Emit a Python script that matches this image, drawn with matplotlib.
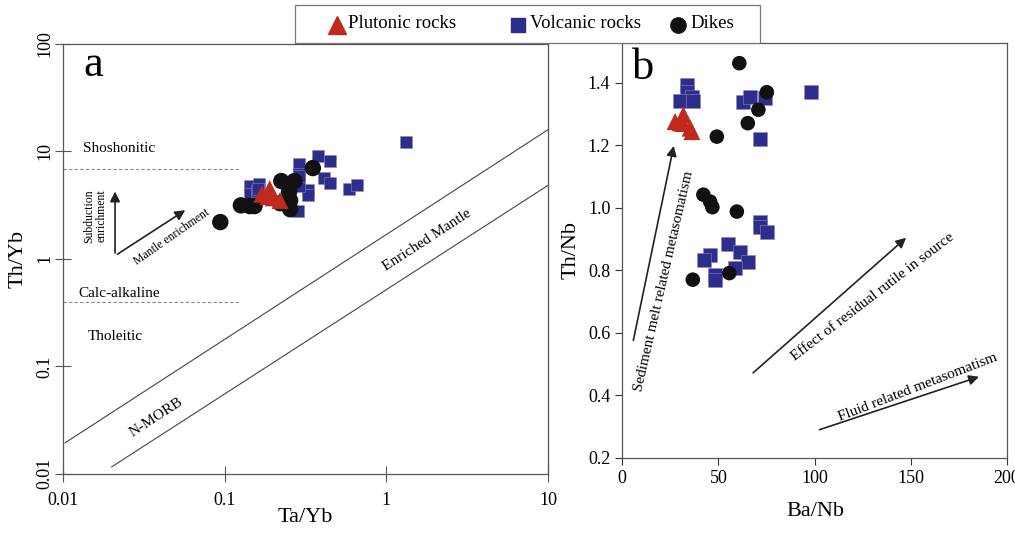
import numpy as np
import matplotlib
matplotlib.use("Agg")
import matplotlib.pyplot as plt
from matplotlib.lines import Line2D
from matplotlib.patches import Rectangle

plt.rcParams['font.family'] = ['Liberation Serif', 'DejaVu Serif']

# ---- panel a: Th/Yb vs Ta/Yb ----
a_volc_x = [1.32, 0.377, 0.445, 0.288, 0.29, 0.41, 0.445, 0.585, 0.656, 0.327, 0.327,
            0.283, 0.143, 0.162, 0.143, 0.158, 0.25, 0.29, 0.29, 0.16]
a_volc_y = [12.3, 9.1, 8.2, 7.6, 6.1, 5.7, 5.1, 4.5, 4.9, 4.4, 3.9,
            2.8, 4.8, 5.0, 4.0, 4.3, 4.5, 4.8, 5.9, 4.5]
a_dike_x = [0.094, 0.126, 0.143, 0.153, 0.224, 0.27, 0.351, 0.25, 0.254, 0.254, 0.22]
a_dike_y = [2.2, 3.15, 3.1, 3.1, 5.3, 5.3, 7.0, 4.2, 3.5, 2.9, 3.3]
a_plut_x = [0.17, 0.19, 0.20, 0.22, 0.185]
a_plut_y = [4.0, 4.5, 3.7, 3.5, 3.8]

# mantle array boundaries and series limits
upper_line_x = [0.0103, 10.1]
upper_line_y = [0.0194, 16.1]
lower_line_x = [0.02, 10.0]
lower_line_y = [0.0116, 4.84]
shosh_limit = 6.9
calc_limit = 0.40
limit_x = [0.01, 0.125]
a_ticks = [0.01, 0.1, 1, 10, 100]
a_ticklabels = ['0.01', '0.1', '1', '10', '100']

# ---- panel b: Th/Nb vs Ba/Nb ----
b_dike_x = [60.9, 75.2, 70.8, 65.3, 49.2, 42.2, 45.7, 46.9, 59.6, 36.7, 55.7]
b_dike_y = [1.463, 1.370, 1.314, 1.271, 1.228, 1.042, 1.020, 1.002, 0.988, 0.770, 0.791]
b_volc_x = [33.6, 33.6, 36.2, 30.1, 37.0, 63.0, 66.5, 74.3, 98.2, 71.7, 71.7, 71.7,
            75.2, 55.2, 61.3, 65.6, 58.7, 45.7, 42.6, 48.3, 48.3]
b_volc_y = [1.394, 1.372, 1.356, 1.342, 1.342, 1.338, 1.354, 1.351, 1.372, 1.220, 0.956, 0.940,
            0.922, 0.885, 0.858, 0.828, 0.807, 0.850, 0.834, 0.786, 0.770]
b_plut_x = [27.5, 31.8, 31.8, 35.3, 30.1, 36.2]
b_plut_y = [1.276, 1.298, 1.270, 1.255, 1.272, 1.244]
b_xticks = [0, 50, 100, 150, 200]
b_yticks = [0.2, 0.4, 0.6, 0.8, 1.0, 1.2, 1.4]
b_yticklabels = ['0.2', '0.4', '0.6', '0.8', '1.0', '1.2', '1.4']

legend_labels = ['Plutonic rocks', 'Volcanic rocks', 'Dikes']

red = '#bf2a1c'
blue = '#2d2d8c'
black = '#111111'

fig = plt.figure(figsize=(10.15, 5.36), dpi=100)
ax1 = fig.add_axes([0.062, 0.116, 0.478, 0.802])
ax2 = fig.add_axes([0.613, 0.146, 0.379, 0.774])

# panel a
ax1.set_xscale('log')
ax1.set_yscale('log')
ax1.plot(upper_line_x, upper_line_y, color='#444444', lw=0.8)
ax1.plot(lower_line_x, lower_line_y, color='#444444', lw=0.8)
ax1.plot(limit_x, [shosh_limit] * 2, color='#888888', lw=0.8, ls=(0, (3, 2)))
ax1.plot(limit_x, [calc_limit] * 2, color='#888888', lw=0.8, ls=(0, (3, 2)))
ax1.scatter(a_volc_x, a_volc_y, marker='s', s=70, color=blue, edgecolors='#8888bb', linewidths=0.4, zorder=3)
ax1.scatter(a_dike_x, a_dike_y, marker='o', s=140, color=black, edgecolors='none', zorder=4)
ax1.scatter(a_plut_x, a_plut_y, marker='^', s=150, color=red, edgecolors='none', zorder=5)
ax1.set_xlim(0.01, 10)
ax1.set_ylim(0.01, 100)
ax1.set_xticks(a_ticks[:4])
ax1.set_xticklabels(a_ticklabels[:4])
ax1.set_yticks(a_ticks)
ax1.set_yticklabels(a_ticklabels, rotation=90, va='center')
ax1.minorticks_off()
ax1.set_xlabel('Ta/Yb', fontsize=16)
ax1.set_ylabel('Th/Yb', fontsize=16)
ax1.xaxis.set_label_coords(0.5, -0.079)
ax1.yaxis.set_label_coords(-0.072, 0.5)
ax1.text(0.062, 0.95, 'a', transform=ax1.transAxes, fontsize=32, ha='center', va='center')
ax1.text(0.0133, 10.7, 'Shoshonitic', fontsize=11, ha='left', va='center')
ax1.text(0.0124, 0.48, 'Calc-alkaline', fontsize=11, ha='left', va='center')
ax1.text(0.0143, 0.19, 'Tholeitic', fontsize=11, ha='left', va='center')
ax1.text(0.0158, 2.52, 'Subduction\nenrichment', fontsize=8.5, rotation=90,
         ha='center', va='center', linespacing=1.0)
arrow_kw = dict(arrowstyle='-|>', color='#222222', lw=1.2, mutation_scale=15)
ax1.annotate('', xy=(0.021, 4.5), xytext=(0.021, 1.07), arrowprops=arrow_kw)
ax1.annotate('', xy=(0.059, 2.93), xytext=(0.021, 1.07), arrowprops=arrow_kw)
ax1.text(0.047, 1.61, 'Mantle enrichment', fontsize=8.5, rotation=35, ha='center', va='center')
ax1.text(1.79, 1.5, 'Enriched Mantle', fontsize=11, rotation=33, ha='center', va='center')
ax1.text(0.038, 0.0334, 'N-MORB', fontsize=11, rotation=33, ha='center', va='center')
ax1.tick_params(direction='inout', length=12, width=0.8, labelsize=13, color='#555555')
ax1.tick_params(axis='x', pad=7)
ax1.tick_params(axis='y', pad=1)

# panel b
ax2.scatter(b_volc_x, b_volc_y, marker='s', s=95, color=blue, edgecolors='#8888bb', linewidths=0.4, zorder=3)
ax2.scatter(b_dike_x, b_dike_y, marker='o', s=110, color=black, edgecolors='none', zorder=4)
ax2.scatter(b_plut_x, b_plut_y, marker='^', s=150, color=red, edgecolors='none', zorder=5)
ax2.set_xlim(0, 200)
ax2.set_ylim(0.2, 1.528)
ax2.set_xticks(b_xticks)
ax2.set_yticks(b_yticks)
ax2.set_yticklabels(b_yticklabels)
ax2.set_xlabel('Ba/Nb', fontsize=16)
ax2.set_ylabel('Th/Nb', fontsize=16)
ax2.xaxis.set_label_coords(0.501, -0.106)
ax2.yaxis.set_label_coords(-0.109, 0.5)
ax2.text(0.055, 0.94, 'b', transform=ax2.transAxes, fontsize=32, ha='center', va='center')
ax2.annotate('', xy=(27.1, 1.207), xytext=(5.5, 0.567), arrowprops=arrow_kw)
ax2.annotate('', xy=(148.7, 0.910), xytext=(67.0, 0.466), arrowprops=arrow_kw)
ax2.annotate('', xy=(186.9, 0.462), xytext=(101.2, 0.287), arrowprops=arrow_kw)
ax2.text(21.8, 0.766, 'Sediment melt related metasomatism', fontsize=11, rotation=77,
         ha='center', va='center')
ax2.text(130.3, 0.714, 'Effect of residual rutile in source', fontsize=11, rotation=37.5,
         ha='center', va='center')
ax2.text(153.6, 0.426, 'Fluid related metasomatism', fontsize=11, rotation=21,
         ha='center', va='center')
ax2.tick_params(direction='out', length=5, width=0.8, labelsize=13, color='#333333')

for ax in (ax1, ax2):
    for sp in ax.spines.values():
        sp.set_color('#555555')
        sp.set_linewidth(0.9)

# shared legend box at the top (drawn by hand to match the wide frame)
W, H = 1015, 536
fig.add_artist(Rectangle((295 / W, 1 - 43 / H), 465 / W, 38 / H, transform=fig.transFigure,
                         facecolor='white', edgecolor='#777777', lw=0.9, zorder=10))
leg_markers = [('^', red, 13, 337, 348), ('s', blue, 10, 518, 530), ('o', black, 11, 678, 690)]
for (m, c, ms, mx, tx), lab in zip(leg_markers, legend_labels):
    fig.add_artist(Line2D([mx / W], [1 - 25 / H], marker=m, ls='none', color=c, markersize=ms,
                          transform=fig.transFigure, zorder=11))
    fig.text(tx / W, 1 - 24 / H, lab, fontsize=13.5, ha='left', va='center', zorder=11)

fig.savefig('out.png', dpi=100)
